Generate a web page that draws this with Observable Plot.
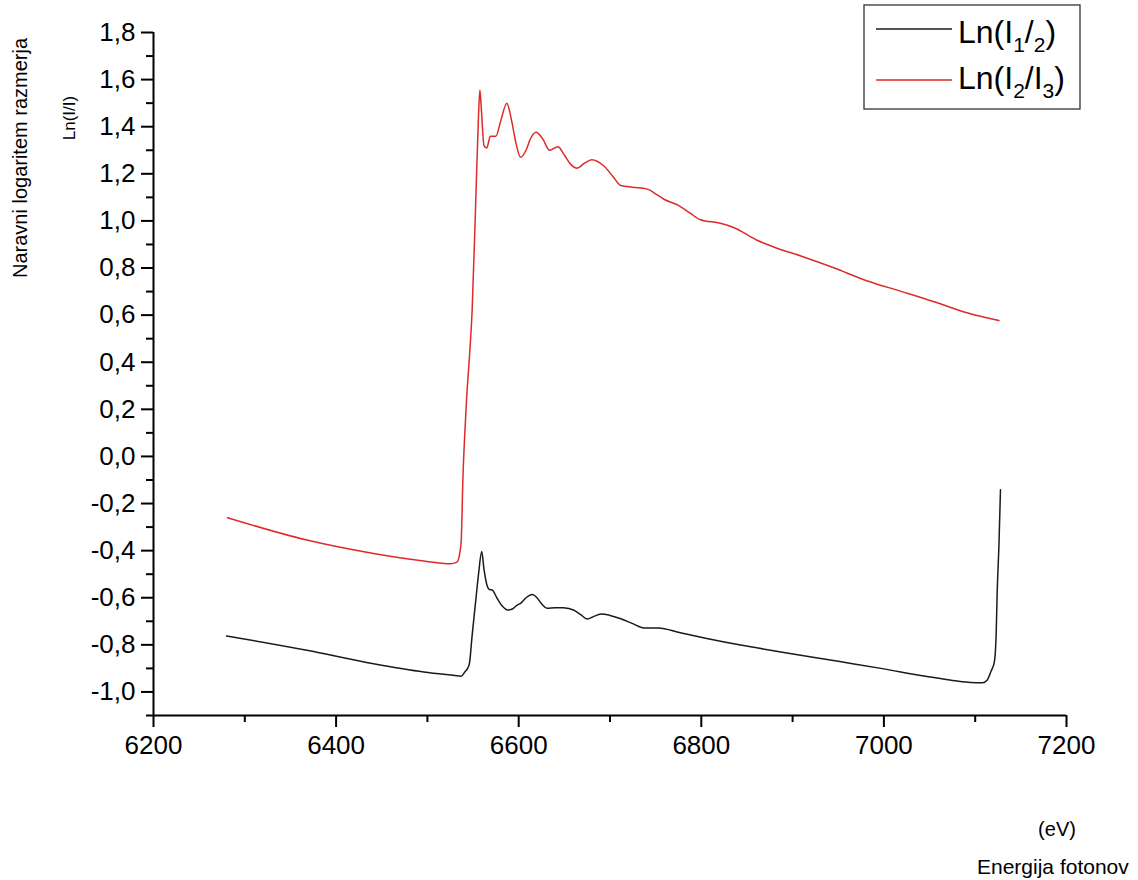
<!DOCTYPE html>
<html>
<head>
<meta charset="utf-8">
<script src="https://cdn.jsdelivr.net/npm/d3@7"></script>
<script src="https://cdn.jsdelivr.net/npm/@observablehq/plot@0.6"></script>
<style>
  html, body { margin: 0; padding: 0; background: #fff; }
  #chart { width: 1138px; height: 880px; overflow: hidden; }
</style>
</head>
<body>
<div id="chart"></div>
<script>
// ---- data ----
const energyBlack = [6280, 6368, 6441, 6496, 6530, 6537, 6541, 6544, 6546, 6549, 6553, 6556, 6559.5, 6562, 6565.5, 6568, 6571, 6576, 6582, 6588, 6593, 6598, 6602, 6608, 6615, 6620, 6626, 6631, 6640, 6649, 6660, 6668, 6675, 6683, 6691, 6700, 6711, 6725, 6737, 6753, 6777, 6806, 6843, 6887, 6950, 7000, 7040, 7062, 7080, 7095, 7108, 7113, 7117, 7121, 7123, 7124, 7126, 7127.7];
const valueBlack  = [-0.762, -0.823, -0.880, -0.915, -0.930, -0.933, -0.915, -0.900, -0.880, -0.760, -0.610, -0.500, -0.404, -0.480, -0.550, -0.565, -0.567, -0.600, -0.635, -0.652, -0.648, -0.632, -0.624, -0.600, -0.586, -0.600, -0.630, -0.645, -0.642, -0.643, -0.652, -0.672, -0.690, -0.678, -0.669, -0.675, -0.688, -0.710, -0.728, -0.728, -0.749, -0.773, -0.801, -0.830, -0.870, -0.902, -0.930, -0.943, -0.954, -0.960, -0.961, -0.950, -0.915, -0.872, -0.750, -0.589, -0.376, -0.142];

const energyRed = [6281, 6368, 6441, 6496, 6525, 6532, 6535, 6537, 6539, 6541, 6543, 6546, 6549, 6553, 6556, 6557.5, 6559, 6562, 6565, 6569, 6575, 6580, 6587, 6592, 6597, 6602, 6608, 6613, 6619, 6626, 6634, 6643, 6650, 6657, 6664, 6672, 6680, 6693, 6703, 6712, 6725, 6741, 6750, 6759, 6774, 6787, 6799, 6821, 6836, 6861, 6883, 6909, 6945, 6982, 7018, 7055, 7091, 7126];
const valueRed  = [-0.260, -0.355, -0.412, -0.444, -0.456, -0.450, -0.420, -0.360, -0.080, 0.100, 0.250, 0.420, 0.620, 1.090, 1.450, 1.556, 1.480, 1.320, 1.310, 1.360, 1.360, 1.420, 1.500, 1.430, 1.330, 1.270, 1.300, 1.350, 1.376, 1.350, 1.300, 1.315, 1.280, 1.240, 1.224, 1.245, 1.260, 1.234, 1.190, 1.150, 1.143, 1.135, 1.115, 1.092, 1.068, 1.035, 1.005, 0.990, 0.971, 0.918, 0.884, 0.851, 0.801, 0.745, 0.702, 0.657, 0.610, 0.577];

const xMajorTicks = [6200, 6400, 6600, 6800, 7000, 7200];
const xMinorTicks = [6300, 6500, 6700, 6900, 7100];
const yMajorTicks = [-1.0, -0.8, -0.6, -0.4, -0.2, 0.0, 0.2, 0.4, 0.6, 0.8, 1.0, 1.2, 1.4, 1.6, 1.8];
const yMinorTicks = [-1.1, -0.9, -0.7, -0.5, -0.3, -0.1, 0.1, 0.3, 0.5, 0.7, 0.9, 1.1, 1.3, 1.5, 1.7];

const yTitle = "Naravni logaritem razmerja";
const yUnit = "Ln(I/I)";
const xUnit = "(eV)";
const xTitle = "Energija fotonov";

// ---- rows built from arrays ----
const blackRows = energyBlack.map((e, i) => ({e, v: valueBlack[i]}));
const redRows = energyRed.map((e, i) => ({e, v: valueRed[i]}));

const fmtY = d => d.toFixed(1).replace(".", ",").replace("−", "-");

const plot = Plot.plot({
  width: 1138,
  height: 880,
  marginLeft: 153,
  marginRight: 72,
  marginTop: 32,
  marginBottom: 165,
  style: {fontFamily: "'Liberation Sans', Arial, sans-serif", fontSize: "26px", background: "#fff", color: "#000"},
  x: {domain: [6200, 7200]},
  y: {domain: [-1.1, 1.8]},
  marks: [
    Plot.axisY(yMajorTicks, {tickSize: 12, tickPadding: 6, strokeWidth: 2, tickFormat: fmtY, label: null, fontSize: 26}),
    Plot.axisY(yMinorTicks, {tickSize: 7, strokeWidth: 2, tickFormat: () => "", label: null}),
    Plot.axisX(xMajorTicks, {tickSize: 12, tickPadding: 8, strokeWidth: 2, tickFormat: d => String(d), label: null, fontSize: 26}),
    Plot.axisX(xMinorTicks, {tickSize: 7, strokeWidth: 2, tickFormat: () => "", label: null}),
    Plot.ruleX([6200], {strokeWidth: 2, stroke: "#000"}),
    Plot.ruleY([-1.1], {strokeWidth: 2, stroke: "#000"}),
    Plot.line(redRows, {x: "e", y: "v", stroke: "#dd2a2a", strokeWidth: 1.5, curve: "monotone-x"}),
    Plot.line(blackRows, {x: "e", y: "v", stroke: "#1a1a1a", strokeWidth: 1.5, curve: "monotone-x"})
  ]
});

document.getElementById("chart").appendChild(plot);

// ---- extra texts and legend ----
const svg = d3.select(plot);
const ff = "'Liberation Sans', Arial, sans-serif";

svg.append("text")
  .attr("transform", "translate(27,158) rotate(-90)")
  .attr("text-anchor", "middle").attr("font-family", ff).attr("font-size", 20).attr("fill", "#000")
  .text(yTitle);
svg.append("text")
  .attr("transform", "translate(75,118) rotate(-90)")
  .attr("text-anchor", "middle").attr("font-family", ff).attr("font-size", 17).attr("fill", "#000")
  .text(yUnit);
svg.append("text")
  .attr("x", 1057).attr("y", 836)
  .attr("text-anchor", "middle").attr("font-family", ff).attr("font-size", 20).attr("fill", "#000")
  .text(xUnit);
svg.append("text")
  .attr("x", 977).attr("y", 874)
  .attr("text-anchor", "start").attr("font-family", ff).attr("font-size", 21).attr("fill", "#000")
  .text(xTitle);

const lg = svg.append("g");
lg.append("rect").attr("x", 864).attr("y", 5).attr("width", 216).attr("height", 104)
  .attr("fill", "#fff").attr("stroke", "#333").attr("stroke-width", 1.3);
lg.append("line").attr("x1", 876).attr("x2", 952).attr("y1", 29).attr("y2", 29)
  .attr("stroke", "#1a1a1a").attr("stroke-width", 1.3);
lg.append("line").attr("x1", 876).attr("x2", 952).attr("y1", 80).attr("y2", 80)
  .attr("stroke", "#dd2a2a").attr("stroke-width", 1.3);

function legendText(y, parts) {
  const t = lg.append("text").attr("x", 958).attr("y", y).attr("text-anchor", "start")
    .attr("font-family", ff).attr("font-size", 32).attr("fill", "#000");
  let shifted = false;
  parts.forEach(([s, sub]) => {
    const ts = t.append("tspan").text(s);
    if (sub && !shifted) { ts.attr("font-size", 21).attr("dy", 9); shifted = true; }
    else if (!sub && shifted) { ts.attr("font-size", 32).attr("dy", -9); shifted = false; }
    else if (sub) ts.attr("font-size", 21);
  });
}
legendText(43, [["Ln(I", false], ["1", true], ["/", false], ["2", true], [")", false]]);
legendText(89, [["Ln(I", false], ["2", true], ["/I", false], ["3", true], [")", false]]);
</script>
</body>
</html>
